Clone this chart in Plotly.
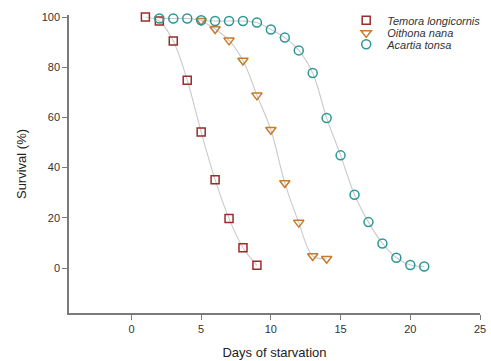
import plotly.graph_objects as go

days_temora = [1, 2, 3, 4, 5, 6, 7, 8, 9]
surv_temora = [100, 98.4, 90.4, 74.8, 54.2, 35.2, 19.7, 8.1, 1.1]

days_oithona = [5, 6, 7, 8, 9, 10, 11, 12, 13, 14]
surv_oithona = [98.5, 95.2, 90.7, 82.7, 68.8, 55.1, 33.9, 18.1, 4.8, 3.7]

days_acartia = [2, 3, 4, 5, 6, 7, 8, 9, 10, 11, 12, 13, 14, 15, 16, 17, 18, 19, 20, 21]
surv_acartia = [99.4, 99.4, 99.4, 98.7, 98.4, 98.4, 98.4, 97.8, 95.0, 91.8, 86.7, 77.7,
                59.8, 44.9, 29.2, 18.3, 9.8, 4.1, 1.2, 0.6]

names = ["<i>Temora longicornis</i>", "<i>Oithona nana</i>", "<i>Acartia tonsa</i>"]
colors = ["#9b2b2b", "#c8792a", "#2a9794"]
symbols = ["square-open", "triangle-down-open", "circle-open"]
sizes = [8, 9, 9]
legend_ids = ["legend", "legend2", "legend3"]
legend_y = [0.982, 0.94, 0.902]

series = [(days_temora, surv_temora), (days_oithona, surv_oithona), (days_acartia, surv_acartia)]

fig = go.Figure()
for (x, y) in series:
    fig.add_trace(go.Scatter(x=x, y=y, mode="lines", line=dict(color="#cacaca", width=1.1, shape="spline", smoothing=1.0),
                             showlegend=False, hoverinfo="skip", cliponaxis=False))
for (x, y), n, c, s, sz, lg in zip(series, names, colors, symbols, sizes, legend_ids):
    fig.add_trace(go.Scatter(x=x, y=y, mode="markers", name=n, cliponaxis=False, legend=lg,
                             marker=dict(symbol=s, size=sz, color=c, line=dict(color=c, width=1.5))))

font_family = "Liberation Sans, Arial, sans-serif"
axis_common = dict(showline=True, linecolor="#7a7a7a", linewidth=1.5, ticks="outside", ticklen=5,
                   tickcolor="#7a7a7a", tickwidth=1, showgrid=False, zeroline=False, automargin=False,
                   tickfont=dict(family=font_family, size=11, color="#333333"),
                   title_font=dict(family=font_family, size=13, color="#222222"))

legend_common = dict(x=0.672, xanchor="left", yanchor="middle", bgcolor="rgba(0,0,0,0)",
                     font=dict(family=font_family, size=11, color="#333333"), itemwidth=32)

layout_legends = {lg: dict(y=ly, **legend_common) for lg, ly in zip(legend_ids, legend_y)}

fig.update_layout(
    width=491, height=361,
    margin=dict(l=69, r=11, t=15, b=48, autoexpand=False),
    plot_bgcolor="white", paper_bgcolor="white",
    xaxis=dict(range=[-4.48, 25], tickvals=[0, 5, 10, 15, 20, 25], title=dict(text="Days of starvation", standoff=14), **axis_common),
    yaxis=dict(range=[-17.9, 100.8], tickvals=[0, 20, 40, 60, 80, 100], title=dict(text="Survival (%)", standoff=12), **axis_common),
    showlegend=True,
    **layout_legends,
)

fig.write_html("out.html", config={"displayModeBar": False},
               post_script="document.body.style.margin='0';document.body.style.padding='0';")
